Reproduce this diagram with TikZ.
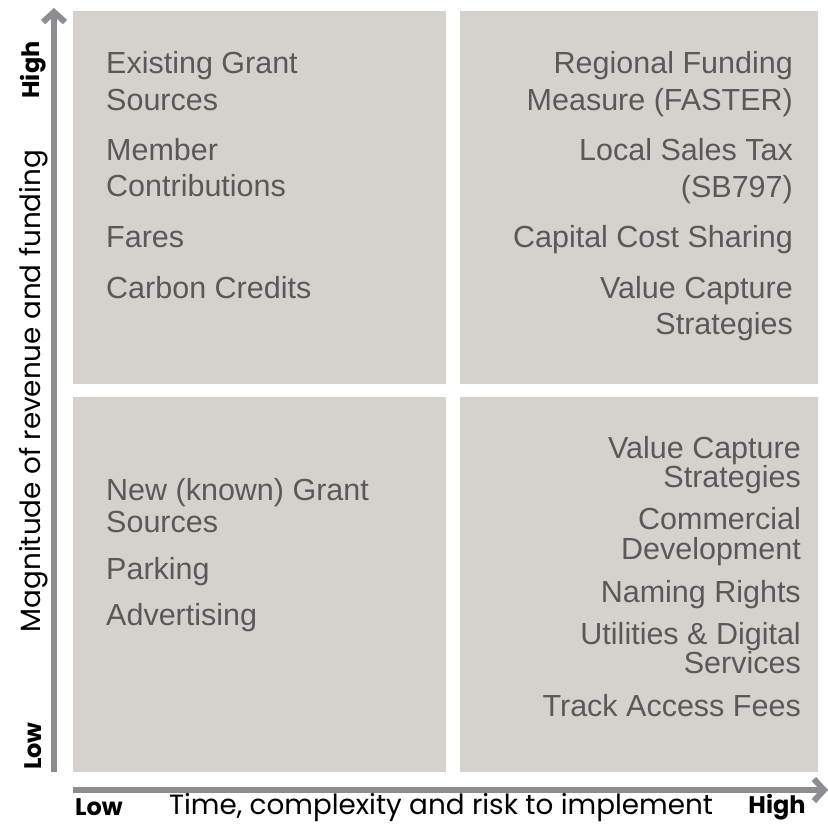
\documentclass[tikz,border=0pt]{standalone}
\usepackage{fontspec}
\setmainfont{Liberation Sans}
\newfontfamily\axisfont{Poppins}
\usetikzlibrary{arrows.meta}

\definecolor{quadfill}{HTML}{D5D1CC}
\definecolor{axisgray}{HTML}{8C8D91}
\definecolor{itemgray}{HTML}{595959}

\tikzset{
	quad/.style={fill=quadfill, draw=none},
	axisline/.style={draw=axisgray, line width=6pt, -{Straight Barb[length=10pt,width=22pt]}},
	item/.style={inner sep=0pt, text=itemgray, font=\fontsize{30.5}{36}\selectfont},
	lvl/.style={inner sep=0pt, text=black, font=\axisfont\bfseries\fontsize{24}{28}\selectfont},
	axtitle/.style={inner sep=0pt, text=black, font=\axisfont\fontsize{27.8}{32}\selectfont}
}

\begin{document}
\begin{tikzpicture}[x=1pt,y=-1pt]
	\useasboundingbox (0,0) rectangle (828,825);
	% quadrants
	\fill[quad] (73,11) rectangle (446,384);
	\fill[quad] (460,11) rectangle (818,384);
	\fill[quad] (73,397) rectangle (446,772);
	\fill[quad] (460,397) rectangle (818,772);
	% axes
	\coordinate (yfoot) at (54,772);
	\coordinate (ytip) at (54,8);
	\coordinate (xfoot) at (73,790);
	\coordinate (xtip) at (828,790);
	\draw[axisline] (yfoot) -- (ytip);
	\draw[axisline] (xfoot) -- (xtip);
	\node[lvl, rotate=90] (yhigh) at (33,70) {High};
	\node[lvl, rotate=90] (ylow) at (33,746) {Low};
	\node[axtitle, rotate=90] (ytitle) at (34,391) {Magnitude of revenue and funding};
	\node[lvl] (xlow) at (99,807) {Low};
	\node[lvl] (xhigh) at (777,807) {High};
	\node[axtitle] (xtitle) at (441,808) {Time, complexity and risk to implement};
	% top left
	\foreach \y/\t [count=\i] in {73/Existing Grant, 110/Sources, 160/Member,
		196/Contributions, 247/Fares, 298/Carbon Credits}
		\node[item, anchor=base west] (tl\i) at (106,\y) {\t};
	% top right
	\foreach \y/\t [count=\i] in {73/Regional Funding, 110/Measure (FASTER),
		160/Local Sales Tax, 197/(SB797), 247/Capital Cost Sharing,
		298/Value Capture, 334/Strategies}
		\node[item, anchor=base east] (tr\i) at (793,\y) {\t};
	% bottom left
	\foreach \y/\t [count=\i] in {500/New (known) Grant, 532/Sources,
		579/Parking, 625/Advertising}
		\node[item, anchor=base west] (bl\i) at (106,\y) {\t};
	% bottom right
	\foreach \y/\t [count=\i] in {458/Value Capture, 487/Strategies,
		529/Commercial, 559/Development, 602/Naming Rights,
		644/Utilities \& Digital, 673/Services, 716/Track Access Fees}
		\node[item, anchor=base east] (br\i) at (801,\y) {\t};
\end{tikzpicture}
\end{document}
